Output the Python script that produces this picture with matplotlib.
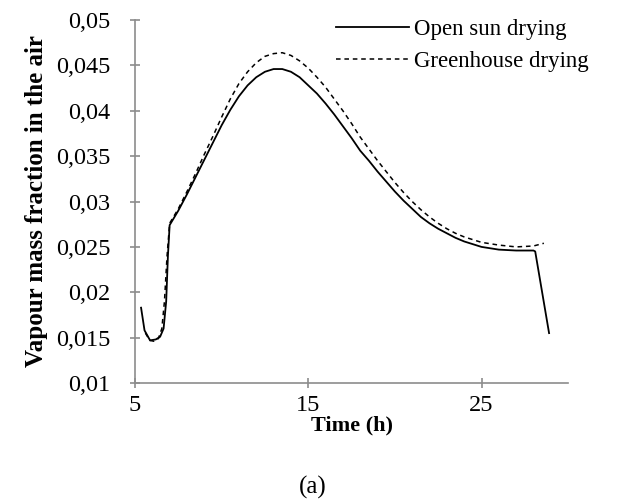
import numpy as np
import matplotlib
matplotlib.use("Agg")
import matplotlib.pyplot as plt
from matplotlib.ticker import FuncFormatter

# time (h) and vapour mass fraction
t_open = [5.35, 5.55, 5.87, 6.2, 6.45, 6.65, 6.8, 6.9, 7.0, 7.5, 8.0, 8.5, 9.0, 9.5,
          10.0, 10.5, 11.0, 11.5, 12.0, 12.5, 13.0, 13.5, 14.0, 14.5, 15.0, 15.5,
          16.0, 16.5, 17.0, 17.5, 18.0, 18.5, 19.0, 19.5, 20.0, 20.5, 21.0, 21.5,
          22.0, 22.5, 23.0, 23.5, 24.0, 24.5, 25.0, 26.0, 27.0, 28.0, 28.1, 28.9]
y_open = [0.0183, 0.0158, 0.0147, 0.0148, 0.0151, 0.0160, 0.0190, 0.0240, 0.0274,
          0.0290, 0.0308, 0.0327, 0.0346, 0.0365, 0.0384, 0.0401, 0.0416, 0.0428,
          0.0437, 0.0443, 0.0446, 0.0446, 0.0443, 0.0437, 0.0428, 0.0419, 0.0408,
          0.0396, 0.0383, 0.0370, 0.0356, 0.0345, 0.0333, 0.0322, 0.0311, 0.0301,
          0.0292, 0.0283, 0.0276, 0.0270, 0.0265, 0.0260, 0.0256, 0.0253, 0.0250,
          0.0247, 0.0246, 0.0246, 0.0245, 0.0155]

t_green = [5.6, 5.85, 6.1, 6.35, 6.55, 6.7, 6.85, 7.0, 7.5, 8.0, 8.5, 9.0, 9.5, 10.0,
           10.5, 11.0, 11.5, 12.0, 12.5, 13.0, 13.5, 14.0, 14.5, 15.0, 15.5, 16.0,
           16.5, 17.0, 17.5, 18.0, 18.5, 19.0, 19.5, 20.0, 20.5, 21.0, 21.5, 22.0,
           22.5, 23.0, 23.5, 24.0, 24.5, 25.0, 26.0, 27.0, 28.0, 28.6]
y_green = [0.0155, 0.0147, 0.0146, 0.0149, 0.0160, 0.0190, 0.0240, 0.0276, 0.0292,
           0.0311, 0.0331, 0.0352, 0.0372, 0.0393, 0.0413, 0.0430, 0.0443, 0.0453,
           0.0460, 0.0463, 0.0464, 0.0461, 0.0455, 0.0447, 0.0437, 0.0426, 0.0413,
           0.0400, 0.0386, 0.0371, 0.0358, 0.0345, 0.0333, 0.0321, 0.0310, 0.0300,
           0.0291, 0.0283, 0.0276, 0.0270, 0.0265, 0.0261, 0.0258, 0.0255, 0.0252,
           0.0250, 0.0251, 0.0254]

x_ticks = [5, 15, 25]
y_ticks = [0.01, 0.015, 0.02, 0.025, 0.03, 0.035, 0.04, 0.045, 0.05]

plt.rcParams['font.family'] = ['Liberation Serif', 'DejaVu Serif']

fig = plt.figure(figsize=(6.25, 5.01), dpi=100)
ax = fig.add_axes([0.216, 0.2355, 0.693, 0.7245])

ax.plot(t_open, y_open, color='black', lw=1.3, label='Open sun drying')
ax.plot(t_green, y_green, color='black', lw=1.1, ls=(0, (3, 2.5)), label='Greenhouse drying')

ax.set_xlim(5, 30)
ax.set_ylim(0.01, 0.05)
ax.set_xticks(x_ticks)
ax.set_yticks(y_ticks)
ax.yaxis.set_major_formatter(FuncFormatter(lambda v, p: ('%g' % v).replace('.', ',')))

for s in ['top', 'right']:
    ax.spines[s].set_visible(False)
for s in ['left', 'bottom']:
    ax.spines[s].set_color('#8c8c8c')
    ax.spines[s].set_linewidth(1.2)
ax.tick_params(direction='inout', length=7, width=1.2, color='#8c8c8c',
               labelsize=17.5, pad=14)
ax.tick_params(axis='x', pad=5)

ax.set_xlabel('Time (h)', fontsize=16, fontweight='bold', labelpad=0)
ax.set_ylabel('Vapour mass fraction in the air', fontsize=18, fontweight='bold', labelpad=6)

leg = ax.legend(loc='upper right', bbox_to_anchor=(1.095, 1.06), frameon=False,
                fontsize=16.5, handlelength=3.2, handletextpad=0.2, labelspacing=0.5)

fig.text(0.5, 0.015, '(a)', ha='center', fontsize=18)

fig.savefig('out.png', dpi=100)
